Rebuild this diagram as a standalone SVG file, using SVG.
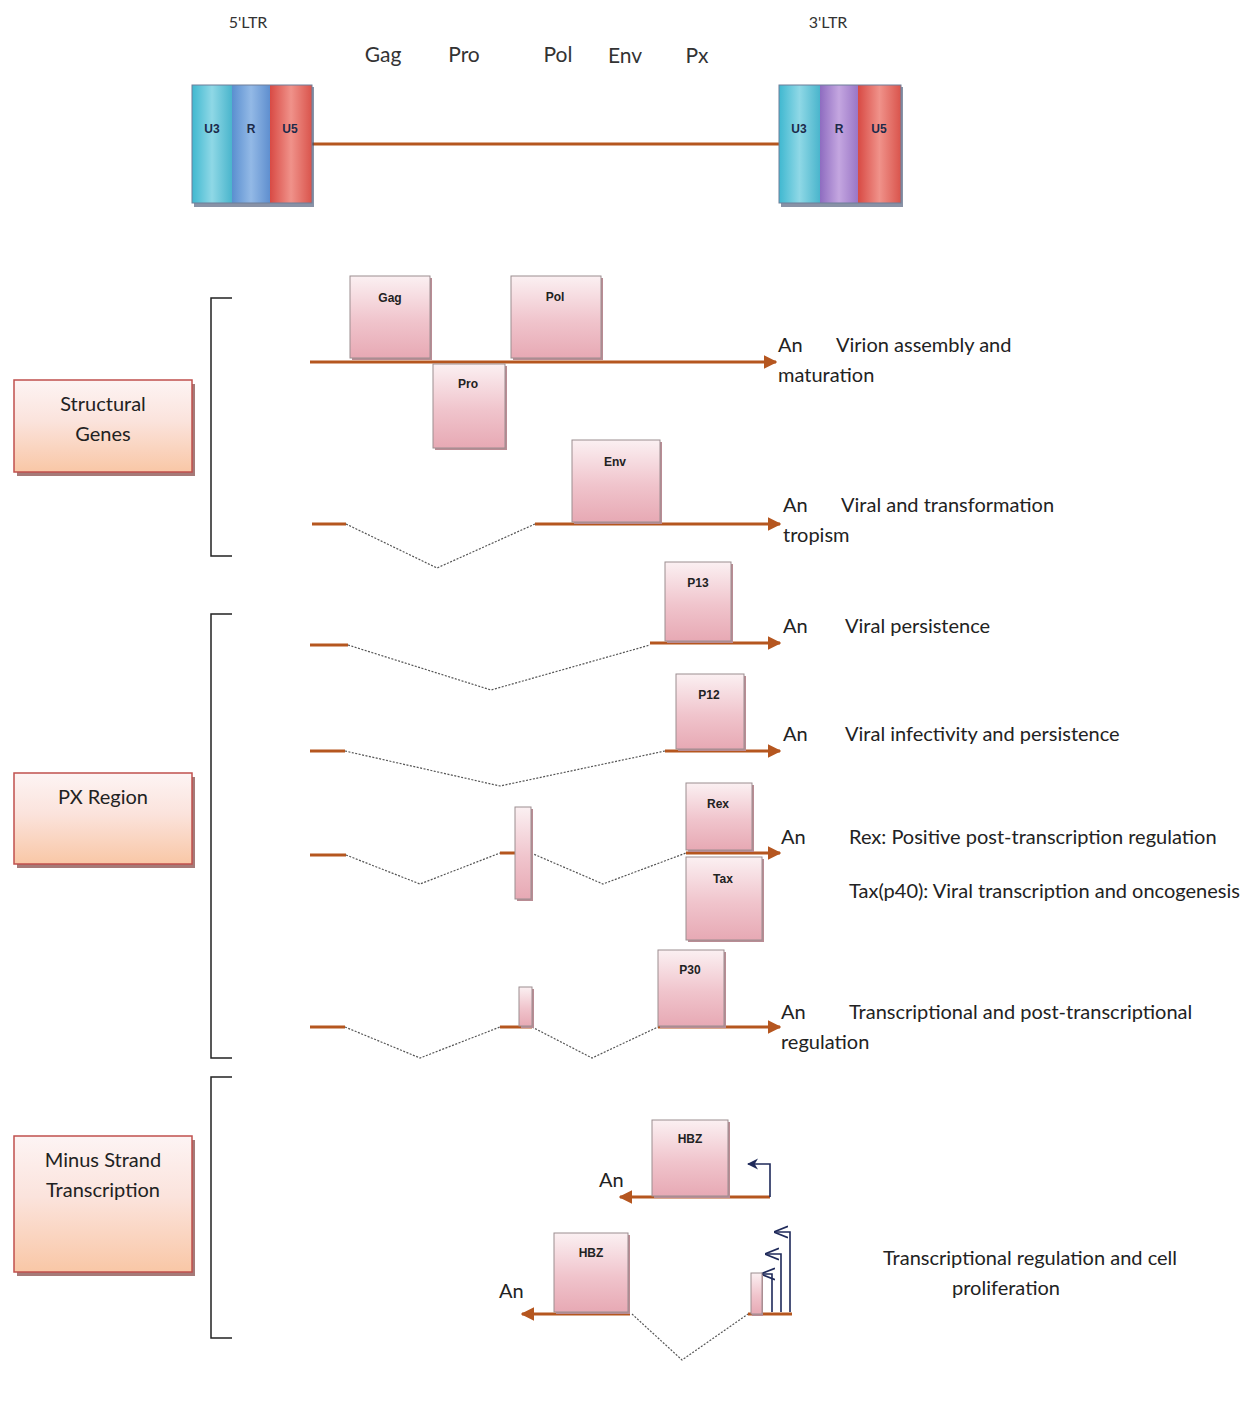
<svg xmlns="http://www.w3.org/2000/svg" width="1252" height="1414" viewBox="0 0 1252 1414">
<defs>
<linearGradient id="gp" x1="0" y1="0" x2="0" y2="1">
<stop offset="0" stop-color="#fbf0f2"/><stop offset="0.55" stop-color="#f0c4cc"/><stop offset="1" stop-color="#e7a9b4"/>
</linearGradient>
<linearGradient id="lp" x1="0" y1="0" x2="0" y2="1">
<stop offset="0" stop-color="#fdf4f4"/><stop offset="0.45" stop-color="#fbe3dc"/><stop offset="1" stop-color="#f9c7a6"/>
</linearGradient>
<linearGradient id="u3" x1="0" y1="0" x2="1" y2="0">
<stop offset="0" stop-color="#3fb8d0"/><stop offset="0.5" stop-color="#8fd8e6"/><stop offset="1" stop-color="#4ab5cc"/>
</linearGradient>
<linearGradient id="rr" x1="0" y1="0" x2="1" y2="0">
<stop offset="0" stop-color="#5a8fd0"/><stop offset="0.5" stop-color="#93b9e6"/><stop offset="1" stop-color="#5f8fcf"/>
</linearGradient>
<linearGradient id="rp" x1="0" y1="0" x2="1" y2="0">
<stop offset="0" stop-color="#8e6cc0"/><stop offset="0.5" stop-color="#c4a6e0"/><stop offset="1" stop-color="#9a76c6"/>
</linearGradient>
<linearGradient id="u5" x1="0" y1="0" x2="1" y2="0">
<stop offset="0" stop-color="#d84a44"/><stop offset="0.5" stop-color="#f0928a"/><stop offset="1" stop-color="#d9544c"/>
</linearGradient>
<marker id="ah" viewBox="0 0 10 10" refX="9" refY="5" markerWidth="4.5" markerHeight="5" orient="auto" markerUnits="strokeWidth">
<path d="M0,0 L10,5 L0,10 z" fill="#b5561f"/>
</marker>
<marker id="nh" viewBox="0 0 10 10" refX="9" refY="5" markerWidth="7" markerHeight="7" orient="auto" markerUnits="strokeWidth">
<path d="M0,0 L10,5 L0,10 L3,5 z" fill="#1f2a5a"/>
</marker>
<marker id="oh" viewBox="0 0 10 10" refX="9" refY="5" markerWidth="9" markerHeight="9" orient="auto" markerUnits="strokeWidth">
<path d="M0,1 L10,5 L0,9" fill="none" stroke="#1f2a5a" stroke-width="1.2"/>
</marker>
</defs>
<style>
.t{font-family:Lato,"Liberation Sans",sans-serif;font-size:20px;fill:#222}
.h{font-family:Lato,"Liberation Sans",sans-serif;font-size:21px;fill:#333}
.s{font-family:Lato,"Liberation Sans",sans-serif;font-size:16px;fill:#333}
.b{font-family:"Liberation Sans",sans-serif;font-size:12px;font-weight:bold;fill:#222;text-anchor:middle}
.ltr{font-family:"Liberation Sans",sans-serif;font-size:12px;font-weight:bold;fill:#1c2a4a;text-anchor:middle}
.gene{fill:url(#gp);stroke:#9c8d90;stroke-width:1}
.sh{fill:#b98c94}
.lab{fill:url(#lp);stroke:#c0504d;stroke-width:1.5}
.labsh{fill:#a67a78}
.ln{stroke:#b5561f;stroke-width:3;fill:none}
.dl{stroke:#555;stroke-width:1.2;stroke-dasharray:2 1.5;fill:none}
.br{stroke:#222;stroke-width:1.5;fill:none}
.nv{stroke:#1f2a5a;stroke-width:1.6;fill:none}
</style>
<rect width="1252" height="1414" fill="#fff"/>

<g id="header">
<text class="s" x="248" y="28" text-anchor="middle">5'LTR</text>
<text class="s" x="828" y="28" text-anchor="middle">3'LTR</text>
<text class="h" x="383" y="62" text-anchor="middle">Gag</text>
<text class="h" x="464" y="62" text-anchor="middle">Pro</text>
<text class="h" x="558" y="62" text-anchor="middle">Pol</text>
<text class="h" x="625" y="63" text-anchor="middle">Env</text>
<text class="h" x="697" y="63" text-anchor="middle">Px</text>
</g>

<g id="connectors">
<line class="ln" x1="312" y1="144" x2="779" y2="144" stroke-width="2"/>
<line class="ln" x1="310" y1="362" x2="776" y2="362" marker-end="url(#ah)"/>
<line class="ln" x1="312" y1="524" x2="346" y2="524"/>
<polyline class="dl" points="346,524 437,568 535,524"/>
<line class="ln" x1="535" y1="524" x2="780" y2="524" marker-end="url(#ah)"/>
<line class="ln" x1="310" y1="645" x2="348" y2="645"/>
<polyline class="dl" points="348,645 491,690 650,645"/>
<line class="ln" x1="650" y1="643" x2="780" y2="643" marker-end="url(#ah)"/>
<line class="ln" x1="310" y1="751" x2="345" y2="751"/>
<polyline class="dl" points="345,751 500,786 665,751"/>
<line class="ln" x1="665" y1="751" x2="780" y2="751" marker-end="url(#ah)"/>
<line class="ln" x1="310" y1="855" x2="346" y2="855"/>
<polyline class="dl" points="346,855 420,884 500,853"/>
<line class="ln" x1="500" y1="853" x2="531" y2="853"/>
<polyline class="dl" points="531,853 603,884 686,853"/>
<line class="ln" x1="686" y1="853" x2="780" y2="853" marker-end="url(#ah)"/>
<line class="ln" x1="310" y1="1027" x2="345" y2="1027"/>
<polyline class="dl" points="345,1027 420,1058 500,1027"/>
<line class="ln" x1="500" y1="1027" x2="532" y2="1027"/>
<polyline class="dl" points="532,1027 592,1058 658,1027"/>
<line class="ln" x1="658" y1="1027" x2="780" y2="1027" marker-end="url(#ah)"/>
<line class="ln" x1="770" y1="1197" x2="620" y2="1197" marker-end="url(#ah)"/>
<polyline class="nv" points="770,1197 770,1164 748,1164" marker-end="url(#nh)"/>
<line class="ln" x1="630" y1="1314" x2="522" y2="1314" marker-end="url(#ah)"/>
<polyline class="dl" points="632,1314 682,1360 748,1314"/>
<line class="ln" x1="748" y1="1314" x2="792" y2="1314" stroke-width="2"/>
<polyline class="nv" points="772,1312 772,1274 762,1274" marker-end="url(#oh)"/>
<polyline class="nv" points="781,1312 781,1254 766,1254" marker-end="url(#oh)"/>
<polyline class="nv" points="790,1312 790,1232 775,1232" marker-end="url(#oh)"/>
</g>

<g id="ltr5">
<rect x="194" y="87" width="120" height="120" fill="#3a4a6a" opacity="0.6"/>
<rect x="192" y="85" width="40" height="118" fill="url(#u3)"/>
<rect x="232" y="85" width="38" height="118" fill="url(#rr)"/>
<rect x="270" y="85" width="42" height="118" fill="url(#u5)"/>
<rect x="192" y="85" width="120" height="118" fill="none" stroke="#6f7f99" stroke-width="1"/>
<text class="ltr" x="212" y="133">U3</text>
<text class="ltr" x="251" y="133">R</text>
<text class="ltr" x="290" y="133" fill="#5a1a1a">U5</text>
</g>

<g id="ltr3">
<rect x="781" y="87" width="122" height="120" fill="#3a4a6a" opacity="0.6"/>
<rect x="779" y="85" width="41" height="118" fill="url(#u3)"/>
<rect x="820" y="85" width="38" height="118" fill="url(#rp)"/>
<rect x="858" y="85" width="43" height="118" fill="url(#u5)"/>
<rect x="779" y="85" width="122" height="118" fill="none" stroke="#6f7f99" stroke-width="1"/>
<text class="ltr" x="799" y="133">U3</text>
<text class="ltr" x="839" y="133">R</text>
<text class="ltr" x="879" y="133" fill="#5a1a1a">U5</text>
</g>

<g id="brackets">
<polyline class="br" points="232,298 211,298 211,556 232,556"/>
<polyline class="br" points="232,614 211,614 211,1058 232,1058"/>
<polyline class="br" points="232,1077 211,1077 211,1338 232,1338"/>
</g>

<g id="label-structural">
<rect class="labsh" x="17" y="384" width="178" height="92"/>
<rect class="lab" x="14" y="380" width="178" height="92"/>
<text class="t" x="103" y="411" text-anchor="middle">Structural</text>
<text class="t" x="103" y="441" text-anchor="middle">Genes</text>
</g>
<g id="label-px">
<rect class="labsh" x="17" y="777" width="178" height="91"/>
<rect class="lab" x="14" y="773" width="178" height="91"/>
<text class="t" x="103" y="804" text-anchor="middle">PX Region</text>
</g>
<g id="label-minus">
<rect class="labsh" x="17" y="1140" width="178" height="136"/>
<rect class="lab" x="14" y="1136" width="178" height="136"/>
<text class="t" x="103" y="1167" text-anchor="middle">Minus Strand</text>
<text class="t" x="103" y="1197" text-anchor="middle">Transcription</text>
</g>

<g id="gag"><rect class="sh" x="352" y="278" width="80" height="82"/><rect class="gene" x="350" y="276" width="80" height="82"/><text class="b" x="390" y="302">Gag</text></g>
<g id="pol"><rect class="sh" x="513" y="278" width="90" height="82"/><rect class="gene" x="511" y="276" width="90" height="82"/><text class="b" x="555" y="301">Pol</text></g>
<g id="pro"><rect class="sh" x="435" y="366" width="72" height="84"/><rect class="gene" x="433" y="364" width="72" height="84"/><text class="b" x="468" y="388">Pro</text></g>
<g id="env"><rect class="sh" x="574" y="442" width="88" height="82"/><rect class="gene" x="572" y="440" width="88" height="82"/><text class="b" x="615" y="466">Env</text></g>
<g id="p13"><rect class="sh" x="667" y="564" width="66" height="79"/><rect class="gene" x="665" y="562" width="66" height="79"/><text class="b" x="698" y="587">P13</text></g>
<g id="p12"><rect class="sh" x="678" y="676" width="68" height="75"/><rect class="gene" x="676" y="674" width="68" height="75"/><text class="b" x="709" y="699">P12</text></g>
<g id="exon5"><rect class="sh" x="517" y="809" width="16" height="92"/><rect class="gene" x="515" y="807" width="16" height="92"/></g>
<g id="rex"><rect class="sh" x="688" y="785" width="66" height="67"/><rect class="gene" x="686" y="783" width="66" height="67"/><text class="b" x="718" y="808">Rex</text></g>
<g id="tax"><rect class="sh" x="688" y="859" width="76" height="83"/><rect class="gene" x="686" y="857" width="76" height="83"/><text class="b" x="723" y="883">Tax</text></g>
<g id="exon6"><rect class="sh" x="521" y="989" width="13" height="39"/><rect class="gene" x="519" y="987" width="13" height="39"/></g>
<g id="p30"><rect class="sh" x="660" y="952" width="66" height="76"/><rect class="gene" x="658" y="950" width="66" height="76"/><text class="b" x="690" y="974">P30</text></g>
<g id="hbz1"><rect class="sh" x="654" y="1122" width="76" height="76"/><rect class="gene" x="652" y="1120" width="76" height="76"/><text class="b" x="690" y="1143">HBZ</text></g>
<g id="hbz2"><rect class="sh" x="556" y="1235" width="74" height="79"/><rect class="gene" x="554" y="1233" width="74" height="79"/><text class="b" x="591" y="1257">HBZ</text></g>
<g id="exon-m"><rect class="sh" x="752" y="1275" width="11" height="41"/><rect class="gene" x="751" y="1273" width="11" height="41"/></g>

<g id="texts">
<text class="t" x="778" y="352">An</text>
<text class="t" x="836" y="352">Virion assembly and</text>
<text class="t" x="778" y="382">maturation</text>
<text class="t" x="783" y="512">An</text>
<text class="t" x="841" y="512">Viral and transformation</text>
<text class="t" x="783" y="542">tropism</text>
<text class="t" x="783" y="633">An</text>
<text class="t" x="845" y="633">Viral persistence</text>
<text class="t" x="783" y="741">An</text>
<text class="t" x="845" y="741">Viral infectivity and persistence</text>
<text class="t" x="781" y="844">An</text>
<text class="t" x="849" y="844">Rex: Positive post-transcription regulation</text>
<text class="t" x="849" y="898">Tax(p40): Viral transcription and oncogenesis</text>
<text class="t" x="781" y="1019">An</text>
<text class="t" x="849" y="1019">Transcriptional and post-transcriptional</text>
<text class="t" x="781" y="1049">regulation</text>
<text class="t" x="599" y="1187">An</text>
<text class="t" x="499" y="1298">An</text>
<text class="t" x="1030" y="1265" text-anchor="middle">Transcriptional regulation and cell</text>
<text class="t" x="1006" y="1295" text-anchor="middle">proliferation</text>
</g>
</svg>
